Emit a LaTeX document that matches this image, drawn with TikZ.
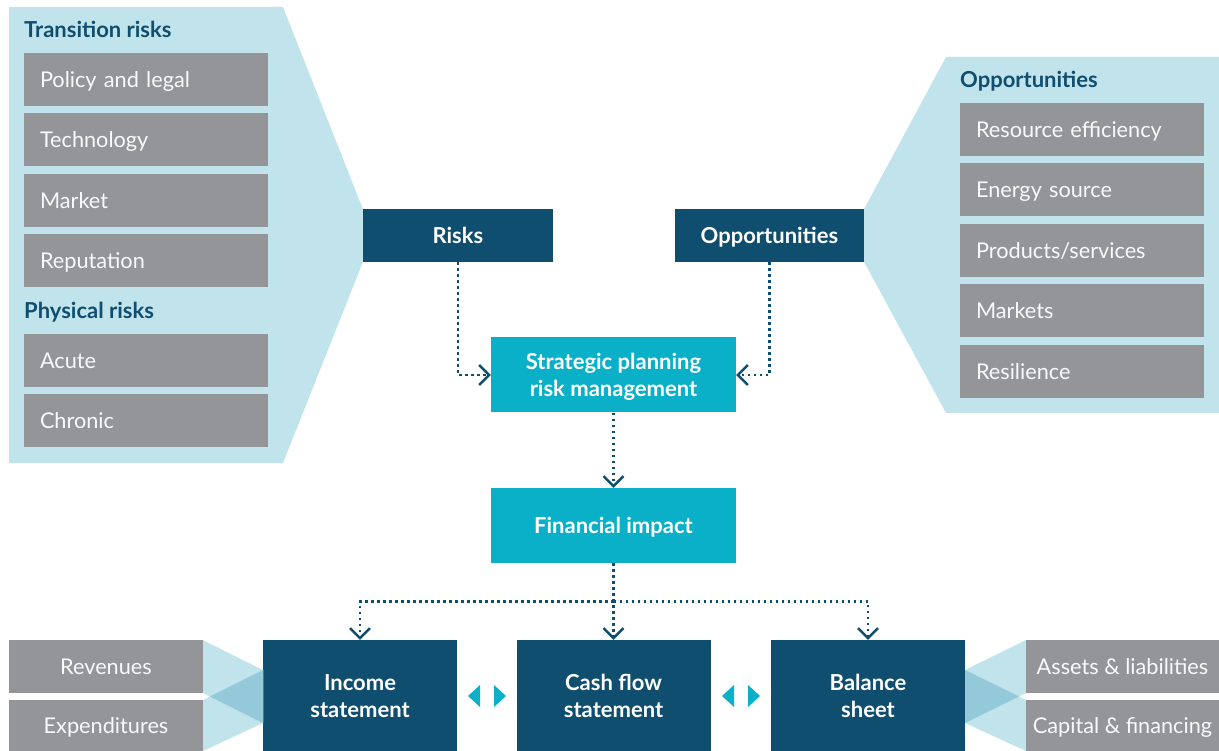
\documentclass[tikz,border=0pt]{standalone}
\usepackage{fontspec}
\setmainfont{Lato}
\usepackage{tikz}
\usetikzlibrary{arrows.meta, calc}
\definecolor{navy}{RGB}{16,78,111}
\definecolor{tealbox}{RGB}{10,176,200}
\definecolor{greybox}{RGB}{147,149,152}
\definecolor{paleblue}{RGB}{193,227,236}
\definecolor{midblue}{RGB}{148,201,217}

\begin{document}
\begin{tikzpicture}[x=1pt, y=-1pt,
    darkbox/.style={fill=navy, text=white, font=\fontsize{22}{27}\selectfont\bfseries,
      align=center, inner sep=0pt},
    lightbox/.style={fill=tealbox, text=white, font=\fontsize{22}{27}\selectfont\bfseries,
      align=center, inner sep=0pt, minimum width=245pt, minimum height=75pt},
    oneline/.style={text height=16pt, text depth=0pt},
    twoline/.style={text height=43pt, text depth=0pt},
    itembox/.style={fill=greybox, text=white!94!greybox, font=\fontsize{21.7}{25}\selectfont,
      inner xsep=16pt, inner ysep=0pt, minimum height=53pt, text width=212pt, align=left,
      oneline},
    footbox/.style={fill=greybox, text=white!94!greybox, font=\fontsize{21.7}{25}\selectfont,
      inner sep=0pt, minimum width=194pt, oneline},
    heading/.style={text=navy, font=\fontsize{22}{24}\selectfont\bfseries, anchor=base west,
      inner sep=0pt},
    link/.style={draw=navy, line width=2.4pt, dash pattern=on 2.4pt off 3.6pt,
      -{Straight Barb[length=10pt, width=20pt]}}]
  \useasboundingbox (0,0) rectangle (1219,751);

  % main boxes
  \node[darkbox, oneline, minimum width=190pt, minimum height=53pt] (risks) at (458,235.5) {Risks};
  \node[darkbox, oneline, minimum width=189pt, minimum height=53pt] (opps) at (769.5,235.5) {Opportunities};
  \node[lightbox, twoline] (strat) at (613.5,375) {Strategic planning\\risk management};
  \node[lightbox, oneline] (fin) at (613.5,525.5) {Financial impact};

  % Risk panel
  \fill[paleblue] (9,7) -- (283,7) -- (risks.north west) -- (risks.south west)
    -- (283,463) -- (9,463) -- cycle;
  \node[heading] (trhead) at (24,38) {Transition risks};
  \foreach \lbl [count=\i] in {Policy and legal, Technology, Market, Reputation}{
    \pgfmathsetmacro{\py}{79.5+60.5*(\i-1)}
    \node[itembox] (tr\i) at (146,\py) {\lbl};
  }
  \node[heading] (phhead) at (24,318.5) {Physical risks};
  \foreach \lbl [count=\i] in {Acute, Chronic}{
    \pgfmathsetmacro{\py}{360.5+60*(\i-1)}
    \node[itembox] (ph\i) at (146,\py) {\lbl};
  }

  % Opportunity panel
  \fill[paleblue] (946,57) -- (1219,57) -- (1219,413) -- (946,413) -- (opps.south east)
    -- (opps.north east) -- cycle;
  \node[heading] (ophead) at (960,87.5) {Opportunities};
  \foreach \lbl [count=\i] in {Resource efficiency, Energy source, Products/services,
      Markets, Resilience}{
    \pgfmathsetmacro{\py}{129.5+60.5*(\i-1)}
    \node[itembox] (op\i) at (1082,\py) {\lbl};
  }

  % statements
  \foreach \nm/\cx/\txt in {income/360/Income\\statement, cash/613.5/Cash flow\\statement,
      balance/868/Balance\\sheet}{
    \node[darkbox, twoline, minimum width=194pt, minimum height=111pt] (\nm) at (\cx,695.5) {\txt};
  }

  % funnels left
  \fill[paleblue] (203,640) -- (263,670) -- (263,723) -- (203,693) -- cycle;
  \fill[paleblue] (203,700) -- (263,670) -- (263,723) -- (203,751) -- cycle;
  \fill[midblue] (210,696.5) -- (263,670) -- (263,723) -- cycle;
  % funnels right
  \fill[paleblue] (1026,640) -- (965,670) -- (965,723) -- (1026,693) -- cycle;
  \fill[paleblue] (1026,700) -- (965,670) -- (965,723) -- (1026,751) -- cycle;
  \fill[midblue] (1019,696.5) -- (965,670) -- (965,723) -- cycle;

  \node[footbox, minimum height=53pt] (rev) at (106,666.5) {Revenues};
  \node[footbox, minimum height=51pt] (exp) at (106,725.5) {Expenditures};
  \node[footbox, minimum width=193pt, minimum height=53pt] (assets) at (1122.5,666.5)
    {Assets \& liabilities};
  \node[footbox, minimum width=193pt, minimum height=51pt] (capital) at (1122.5,725.5)
    {Capital \& financing};

  % small two-way markers
  \foreach \cx in {487,741}{
    \fill[tealbox] (\cx-19,696) -- (\cx-7,685) -- (\cx-7,707) -- cycle;
    \fill[tealbox] (\cx+19,696) -- (\cx+7,685) -- (\cx+7,707) -- cycle;
  }

  % connectors
  \draw[link] (risks.south) |- (strat.west);
  \draw[link] (opps.south) |- (strat.east);
  \draw[link] (strat.south) -- (fin.north);
  \coordinate (split) at ($(fin.south)!0.5!(cash.north)$);
  \draw[link] (fin.south) -- (cash.north);
  \draw[link] (split) -| (income.north);
  \draw[link] (split) -| (balance.north);
\end{tikzpicture}
\end{document}
